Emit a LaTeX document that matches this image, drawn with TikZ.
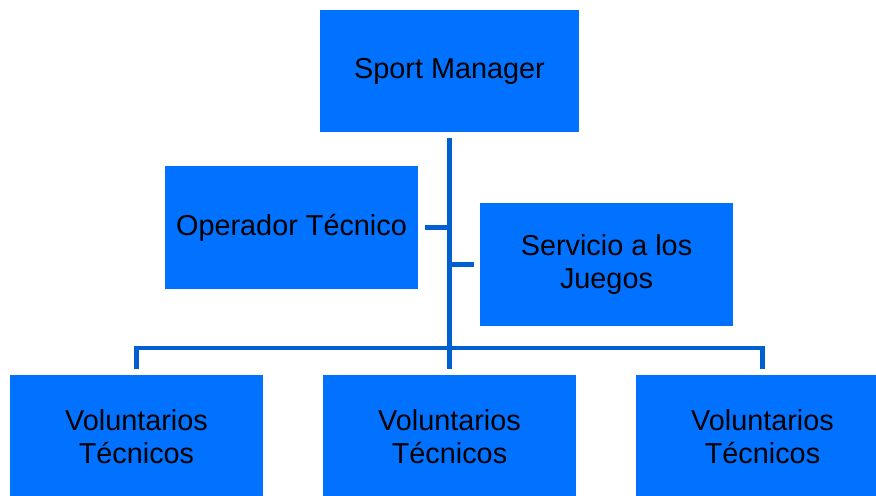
\documentclass[tikz,border=0pt]{standalone}
\usepackage{fontspec}
\setmainfont{Liberation Sans}
\usepackage{tikz}
\usetikzlibrary{positioning}

\definecolor{boxblue}{RGB}{0,114,255}
\definecolor{lineblue}{RGB}{0,96,208}

\begin{document}
\begin{tikzpicture}[x=0.025cm, y=-0.025cm,
    box/.style={rectangle, fill=boxblue, inner sep=0pt,
                minimum width=6.325cm, minimum height=3.075cm, align=center,
                font=\fontsize{20.5}{23.5}\selectfont},
    conn/.style={draw=lineblue, line width=3.5pt}]
  \clip (0,0) rectangle (876,495);
  \node[box, minimum width=6.475cm, minimum height=3.05cm] (mgr) at (449.5,71)
        {Sport Manager};
  \node[box] (oper) at (291.5,227.5) {Operador Técnico};
  \node[box] (serv) at (606.5,264.5) {Servicio a los\\Juegos};
  \node[box] (volA) at (136.5,437) {Voluntarios\\Técnicos};
  \node[box] (volB) at (449.5,437) {Voluntarios\\Técnicos};
  \node[box] (volC) at (762.5,437) {Voluntarios\\Técnicos};
  \coordinate (bus) at (449.5,348);
  % spine and stubs
  \draw[conn] ([yshift=-0.15cm]mgr.south) -- ([yshift=0.15cm]volB.north);
  \draw[conn] ([xshift=0.175cm]oper.east) -- (oper.east -| mgr.south);
  \draw[conn] ([xshift=-0.15cm]serv.west) -- (serv.west -| mgr.south);
  % bus to the volunteers
  \draw[conn] ([yshift=0.15cm]volA.north) |- (bus) -| ([yshift=0.15cm]volC.north);
\end{tikzpicture}
\end{document}
